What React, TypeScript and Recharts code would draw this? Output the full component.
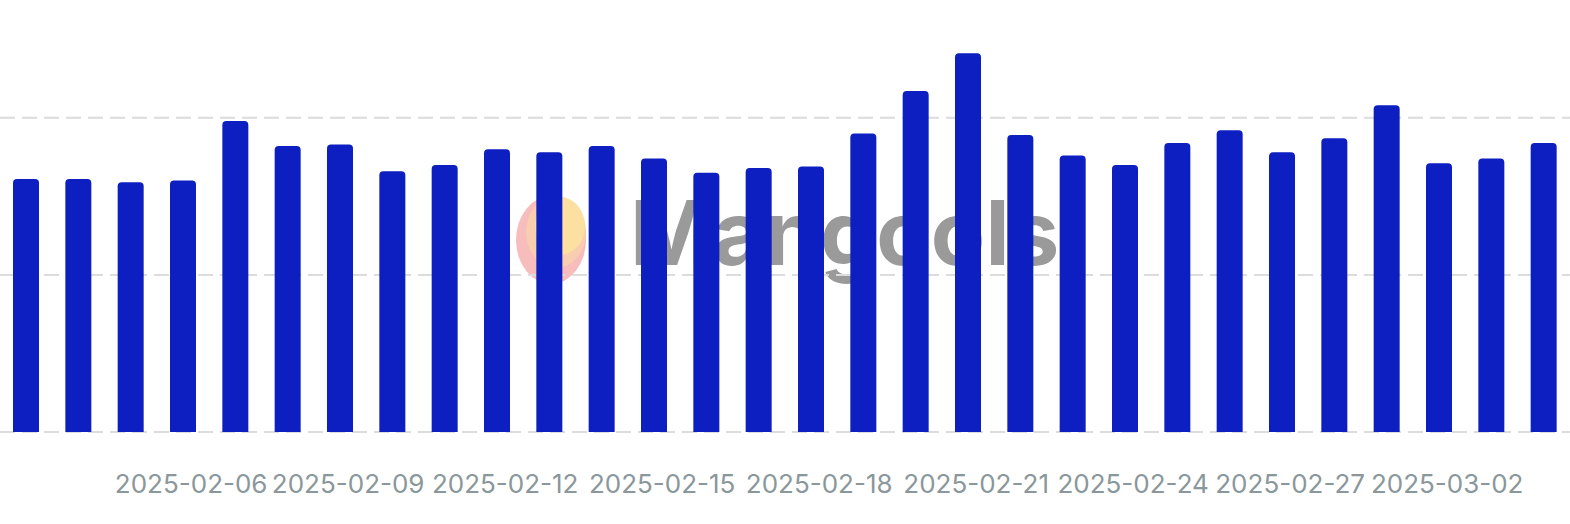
import { BarChart, Bar, XAxis, YAxis, CartesianGrid } from "recharts";

const dates = [
  "2025-02-03", "2025-02-04", "2025-02-05", "2025-02-06", "2025-02-07",
  "2025-02-08", "2025-02-09", "2025-02-10", "2025-02-11", "2025-02-12",
  "2025-02-13", "2025-02-14", "2025-02-15", "2025-02-16", "2025-02-17",
  "2025-02-18", "2025-02-19", "2025-02-20", "2025-02-21", "2025-02-22",
  "2025-02-23", "2025-02-24", "2025-02-25", "2025-02-26", "2025-02-27",
  "2025-02-28", "2025-03-01", "2025-03-02", "2025-03-03", "2025-03-04",
];

const visits = [
  161, 161, 159, 160, 198, 182, 183, 166, 170, 180,
  178, 182, 174, 165, 168, 169, 190, 217, 241, 189,
  176, 170, 184, 192, 178, 187, 208, 171, 174, 184,
];

const shownTicks = [
  "2025-02-06", "2025-02-09", "2025-02-12", "2025-02-15", "2025-02-18",
  "2025-02-21", "2025-02-24", "2025-02-27", "2025-03-02",
];

const yTicks = [0, 100, 200];

const data = dates.map((date, i) => ({ date, visits: visits[i] }));

const DateTick = ({ x, y, payload }: any) => {
  if (!shownTicks.includes(payload.value)) return null;
  return (
    <text
      x={x + 8}
      y={y + 53}
      textAnchor="middle"
      fill="#8a979b"
      fontSize={26}
      fontFamily="Inter, sans-serif"
    >
      {payload.value}
    </text>
  );
};

const Watermark = () => (
  <svg
    width={1570}
    height={524}
    style={{ position: "absolute", left: 0, top: 0 }}
  >
    <ellipse cx={551} cy={240} rx={35} ry={44} fill="#f7bcbc" />
    <ellipse cx={556} cy={232} rx={30} ry={36} fill="#f8cdb0" />
    <ellipse cx={560} cy={226} rx={25} ry={29} fill="#fbe0a2" />
    <text
      x={630}
      y={265}
      fill="#9a9a9a"
      fontSize={89}
      fontWeight={700}
      fontFamily="Inter, sans-serif"
    >
      Mangools
    </text>
  </svg>
);

export default function App() {
  return (
    <div
      style={{
        position: "absolute",
        left: 0,
        top: 0,
        width: 1570,
        height: 524,
        background: "#fff",
        overflow: "hidden",
      }}
    >
      <Watermark />
      <div style={{ position: "absolute", left: 0, top: 0 }}>
        <BarChart
          width={1570}
          height={524}
          data={data}
          margin={{ top: -4, right: 0, bottom: 0, left: 0 }}
        >
          <CartesianGrid
            vertical={false}
            stroke="#dcdcdc"
            strokeWidth={2}
            strokeDasharray="15 7"
          />
          <XAxis
            dataKey="date"
            height={92}
            interval={0}
            axisLine={false}
            tickLine={false}
            tick={<DateTick />}
          />
          <YAxis hide domain={[0, 277.5]} ticks={yTicks} />
          <Bar
            dataKey="visits"
            fill="#0d1fc1"
            barSize={26}
            radius={[4, 4, 0, 0]}
            isAnimationActive={false}
          />
        </BarChart>
      </div>
    </div>
  );
}
